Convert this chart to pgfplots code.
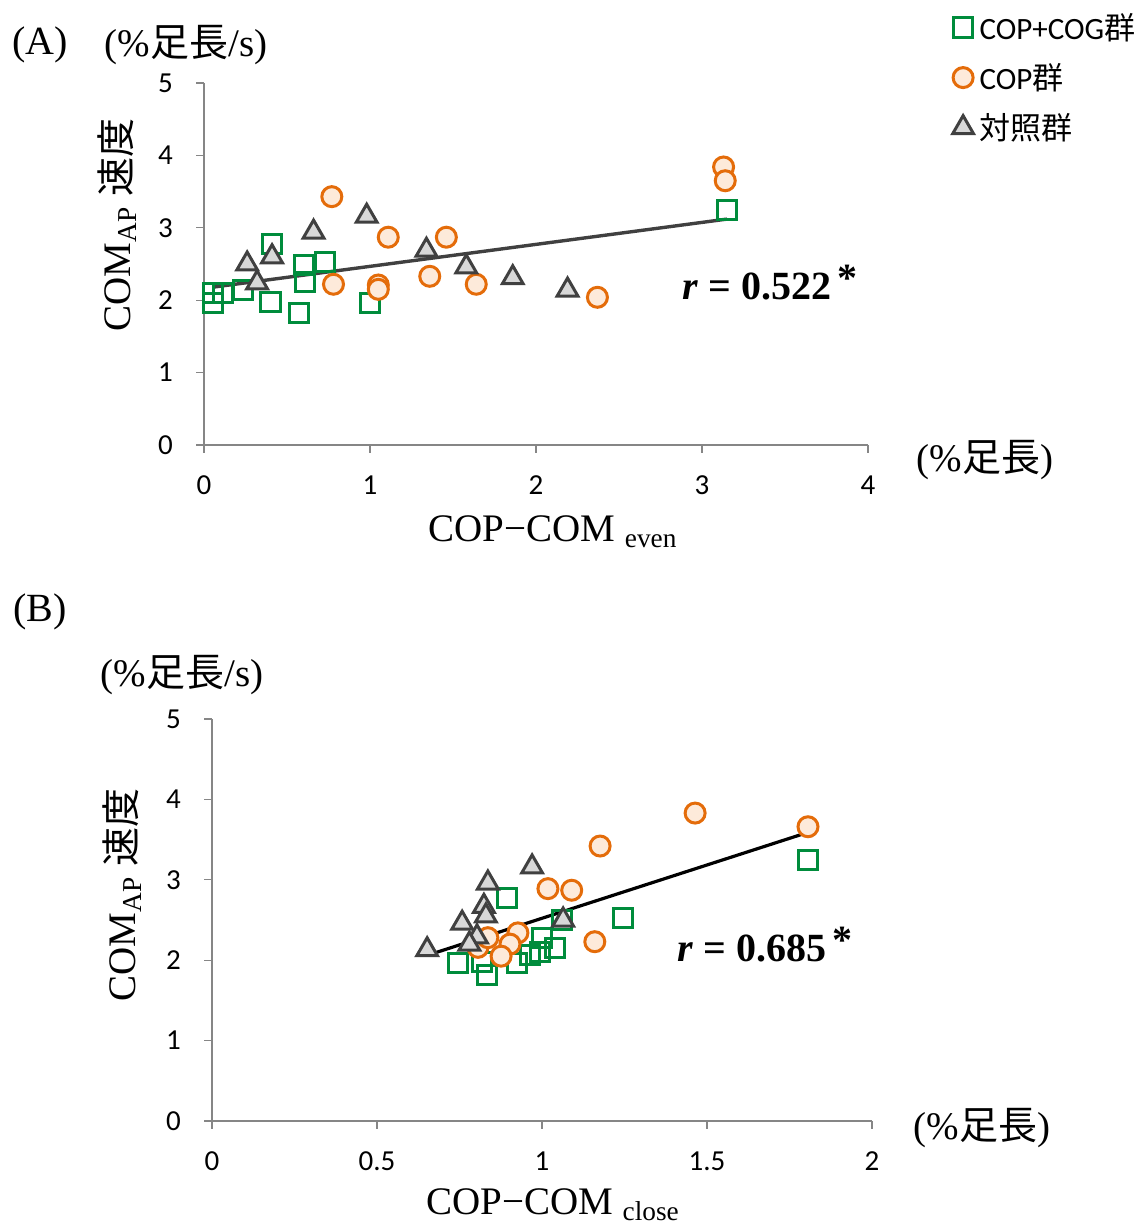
\documentclass[border=0pt]{standalone}
\usepackage{fontspec}
\usepackage{pgfplots}
\pgfplotsset{compat=1.18}
\setmainfont{Liberation Serif}
\newfontfamily\cjk{Noto Sans CJK JP}
\newfontfamily\tickfont{Carlito}

\definecolor{grn}{RGB}{0,140,60}
\definecolor{org}{RGB}{228,108,10}
\definecolor{orgfill}{RGB}{253,234,218}
\definecolor{dgray}{RGB}{64,64,64}
\definecolor{lgray}{RGB}{216,216,216}
\definecolor{axgray}{RGB}{134,134,134}

\pgfplotsset{
 myaxis/.style={
  scale only axis, clip=false,
  axis x line*=bottom, axis y line*=left,
  axis line style={axgray, line width=0.6pt, -},
  tick style={axgray, line width=0.6pt},
  tick align=outside, major tick length=4pt,
  ymin=0, ymax=5, ytick={0,...,5},
  /pgf/number format/assume math mode=true,
  ticklabel style={font=\tickfont\fontsize{14.5}{14.5}\selectfont, text=black},
  xticklabel style={yshift=-8pt}, yticklabel style={xshift=-8pt},
 },
 sq/.style={only marks, mark=square, mark size=4.8pt, mark options={draw=grn, line width=1.5pt, fill=white}},
 ci/.style={only marks, mark=*, mark size=5pt, mark options={draw=org, line width=1.5pt, fill=orgfill}},
 tr/.style={only marks, mark=triangle*, mark size=6pt, mark options={draw=dgray, line width=1.5pt, fill=lgray}},
}

\begin{document}
\begin{tikzpicture}
\useasboundingbox (0,0) rectangle (570pt,613.5pt);

% ---------------- Panel A ----------------
\begin{axis}[myaxis, at={(102pt,391pt)}, anchor=south west,
  width=332pt, height=181pt,
  xmin=0, xmax=4, xtick={0,...,4},
  legend style={at={(1.127,1.20)}, anchor=north west, draw=none, fill=none,
    font=\tickfont\fontsize{15.5}{15.5}\selectfont, row sep=8.5pt,
    inner sep=0pt, nodes={inner sep=1pt}},
  legend cell align=left]
\addplot[sq] coordinates {
 (0.054,2.10) (0.054,1.96) (0.114,2.10) (0.235,2.14) (0.41,2.78) (0.40,1.98)
 (0.57,1.82) (0.60,2.49) (0.61,2.25) (0.73,2.53) (1.00,1.96) (3.15,3.25)};
\addlegendentry{\hspace{2pt}COP+COG{\cjk 群}}
\addplot[ci] coordinates {
 (0.77,3.43) (1.11,2.87) (1.46,2.87) (0.78,2.22) (1.05,2.21) (1.05,2.15)
 (1.36,2.33) (1.64,2.22) (2.37,2.04) (3.13,3.84) (3.14,3.65)};
\addlegendentry{\hspace{2pt}COP{\cjk 群}}
\addplot[tr] coordinates {
 (0.26,2.50) (0.41,2.60) (0.32,2.24) (0.66,2.94) (0.98,3.16) (1.34,2.69)
 (1.58,2.46) (1.86,2.31) (2.19,2.14)};
\addlegendentry{\hspace{2pt}{\cjk 対照群}}
\addplot[dgray, line width=1.7pt, forget plot] coordinates {(0.054,2.18) (3.15,3.12)};
\end{axis}

% ---------------- Panel B ----------------
\begin{axis}[myaxis, at={(106pt,53pt)}, anchor=south west,
  width=330pt, height=201pt,
  xmin=0, xmax=2, xtick={0,0.5,1,1.5,2}]
\addplot[sq] coordinates {
 (0.745,1.97) (0.818,1.98) (0.833,1.82) (0.894,2.77) (0.924,1.97) (0.964,2.06)
 (0.994,2.10) (1.00,2.28) (1.04,2.15) (1.06,2.50) (1.245,2.52) (1.806,3.25)};
\addplot[ci] coordinates {
 (1.464,3.83) (1.806,3.66) (1.176,3.42) (1.018,2.89) (1.09,2.87) (1.16,2.23)
 (0.927,2.34) (0.903,2.20) (0.876,2.05) (0.806,2.16) (0.836,2.28)};
\addplot[tr] coordinates {
 (0.652,2.13) (0.758,2.46) (0.836,2.96) (0.824,2.67) (0.830,2.55) (0.803,2.29)
 (0.970,3.16) (1.064,2.50) (0.78,2.20)};
\addplot[black, line width=1.6pt] coordinates {(0.652,2.06) (1.806,3.59)};
\end{axis}

% ---------------- Texts ----------------
\begin{scope}[every node/.style={inner sep=0pt}]
\node at (20pt,591pt) {\fontsize{20}{20}\selectfont (A)};
\node at (93pt,591pt) {\fontsize{19.5}{19.5}\selectfont (\%{\cjk 足長}/s)};
\node[rotate=90] at (58.5pt,501pt) {\fontsize{19.5}{19.5}\selectfont COM\textsubscript{AP} {\cjk 速度}};
\node at (276.5pt,347.5pt) {\fontsize{19.5}{19.5}\selectfont COP−COM \textsubscript{even}};
\node at (492.5pt,383.5pt) {\fontsize{19.5}{19.5}\selectfont (\%{\cjk 足長})};
\node at (385pt,472pt) {\fontsize{20}{20}\selectfont\bfseries\textit{r} = 0.522\,\raisebox{4pt}{*}};

\node at (20pt,307.5pt) {\fontsize{20}{20}\selectfont (B)};
\node at (91pt,276pt) {\fontsize{19.5}{19.5}\selectfont (\%{\cjk 足長}/s)};
\node[rotate=90] at (61pt,166pt) {\fontsize{19.5}{19.5}\selectfont COM\textsubscript{AP} {\cjk 速度}};
\node at (276.5pt,11pt) {\fontsize{19.5}{19.5}\selectfont COP−COM \textsubscript{close}};
\node at (491pt,49.5pt) {\fontsize{19.5}{19.5}\selectfont (\%{\cjk 足長})};
\node at (382.5pt,141pt) {\fontsize{20}{20}\selectfont\bfseries\textit{r} = 0.685\,\raisebox{4pt}{*}};
\end{scope}
\end{tikzpicture}
\end{document}
